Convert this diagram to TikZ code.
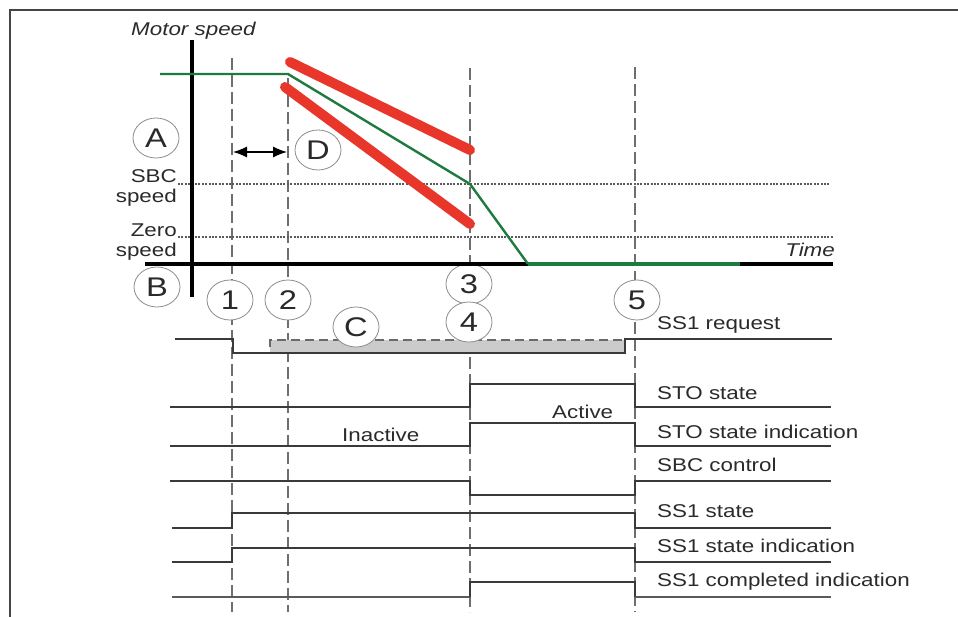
\documentclass[tikz,border=0pt]{standalone}
\usepackage{fontspec}
\setmainfont{Liberation Sans}[FakeStretch=1.21]
\usetikzlibrary{arrows.meta,shapes.geometric}

\definecolor{framegray}{HTML}{454545}
\definecolor{guidegray}{HTML}{6E6E6E}
\definecolor{levelgray}{HTML}{5A5A5A}
\definecolor{signalgray}{HTML}{3A3A3A}
\definecolor{boxfill}{HTML}{CBCBCB}
\definecolor{boxedge}{HTML}{6A6A6A}
\definecolor{speedgreen}{HTML}{1F7A40}
\definecolor{limitred}{HTML}{E8362B}
\definecolor{tagedge}{HTML}{8C8C8C}
\definecolor{textgray}{HTML}{2A2A2A}

\begin{document}
\begin{tikzpicture}[x=1pt,y=-1pt,
  guide/.style={draw=guidegray, line width=1.2pt, dash pattern=on 12pt off 5pt},
  level/.style={draw=levelgray, line width=1.1pt, dash pattern=on 2pt off 1.4pt},
  axisline/.style={draw=black, line width=4pt},
  signal/.style={draw=signalgray, line width=1.1pt},
  limit/.style={draw=limitred, line width=10pt, line cap=round},
  tag/.style={ellipse, draw=tagedge, line width=0.8pt, fill=white,
    minimum width=46pt, minimum height=40pt, inner sep=0pt,
    text=textgray, font=\fontsize{27}{27}\selectfont},
  lab/.style={inner sep=0pt, text=textgray, font=\fontsize{18.5}{20}\selectfont},
]
\useasboundingbox (0,0) rectangle (958,617);

% frame
\draw[framegray, line width=2pt] (10,617) -- (10,10) -- (958,10);

% event guides
\draw[guide] (232,58) -- (232,612);
\draw[guide] (288,78) -- (288,612);
\draw[guide] (470,68) -- (470,612);
\draw[guide] (635,67) -- (635,612);

% speed levels
\draw[level] (178,184) -- (830,184);
\draw[level] (178,237) -- (833,237);

% SS1 request window
\fill[boxfill] (270,340) rectangle (625,353);
\draw[boxedge, line width=2.6pt, dash pattern=on 9pt off 5pt] (270,347) -- (270,340) -- (625,340);

% signals
\draw[signal] (175,339) -| (233,353) -| (625,339) -- (832,339);
\draw[signal] (170,407) -| (470,384) -| (635,407) -- (831,407);
\draw[signal] (170,446) -| (470,423) -| (635,446) -- (831,446);
\draw[signal] (170,481) -| (470,495) -| (635,481) -- (831,481);
\draw[signal] (172,528) -| (232,513) -| (635,528) -- (831,528);
\draw[signal] (172,562) -| (232,548) -| (635,562) -- (831,562);
\draw[signal, line width=2.6pt, draw=levelgray] (172,597) -- (470,597);
\draw[signal] (470,597) -- (470,582) -| (635,597);
\draw[signal, line width=2.6pt, draw=levelgray] (635,597) -- (831,597);

% markers
\node[tag] (tA) at (156,138) {A};
\node[tag] (tB) at (157,287) {B};
\node[tag] (tD) at (318,150) {D};
\node[tag] (t1) at (230,300) {1};
\node[tag] (t2) at (288,300) {2};
\node[tag] (t3) at (469,284) {3};
\node[tag] (t4) at (469,322) {4};
\node[tag] (t5) at (637,300) {5};
\node[tag] (tC) at (356,327) {C};

% axes
\draw[axisline] (192,40) -- (192,297);
\draw[axisline] (145,264) -- (833,264);

% speed limits
\draw[limit] (290,62) -- (470,150);
\draw[limit] (285,87) -- (470,224);

% speed profile
\draw[speedgreen, line width=2.4pt, line join=round]
  (160,74) -- (288,74) -- (470,184) -- (528,264);
\draw[speedgreen, line width=4pt] (528,264) -- (740,264);

% delay arrow
\coordinate (dl) at (233,152);
\coordinate (dr) at (287,152);
\draw[line width=1.2pt, {Latex[length=14pt,width=11pt]}-{Latex[length=14pt,width=11pt]}] (dl) -- (dr);

% texts
\node[lab, anchor=base west, font=\fontsize{18.5}{20}\selectfont\itshape] (ms) at (131,36) {Motor speed};
\node[lab, anchor=base east, font=\fontsize{18.5}{20}\selectfont\itshape] (tm) at (835,257) {Time};
\node[lab, anchor=base east] (sbc1) at (177,183) {SBC};
\node[lab, anchor=base east] (sbc2) at (177,203) {speed};
\node[lab, anchor=base east] (zs1) at (177,237) {Zero};
\node[lab, anchor=base east] (zs2) at (177,257) {speed};
\node[lab, anchor=base west] (inact) at (342,441) {Inactive};
\node[lab, anchor=base west] (act) at (552,418) {Active};

\node[lab, anchor=base west] (l1) at (657,330) {SS1 request};
\node[lab, anchor=base west] (l2) at (657,399) {STO state};
\node[lab, anchor=base west] (l3) at (657,438) {STO state indication};
\node[lab, anchor=base west] (l4) at (657,471) {SBC control};
\node[lab, anchor=base west] (l5) at (657,517) {SS1 state};
\node[lab, anchor=base west] (l6) at (657,552) {SS1 state indication};
\node[lab, anchor=base west] (l7) at (657,586) {SS1 completed indication};
\end{tikzpicture}
\end{document}
